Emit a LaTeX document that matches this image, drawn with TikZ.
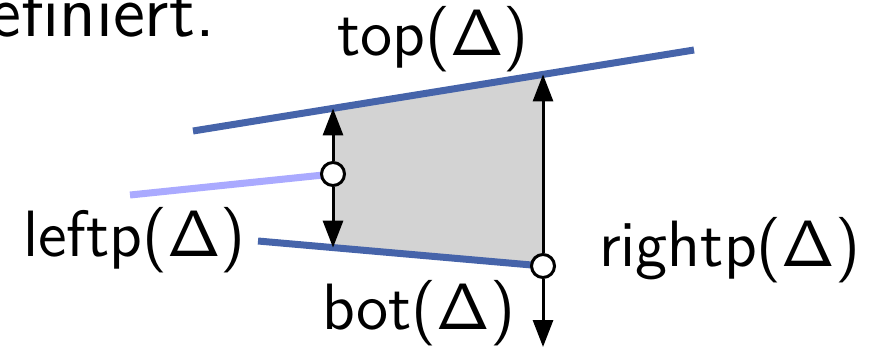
\documentclass[tikz,border=0pt]{standalone}
\usetikzlibrary{arrows.meta}
\definecolor{segblue}{RGB}{70,100,170}
\definecolor{seglight}{RGB}{170,170,255}
\definecolor{trapgray}{RGB}{211,211,211}
\begin{document}
\begin{tikzpicture}[x=0.2pt,y=-0.2pt,
  seg/.style={line width=1.4pt},
  arr/.style={line width=0.6pt,-{Triangle[length=5.4pt,width=4pt]}},
  dotnode/.style={circle,draw,fill=white,line width=0.6pt,minimum size=4.6pt,inner sep=0pt},
  lbl/.style={inner sep=0pt,font=\sffamily\fontsize{13.1}{16}\selectfont},
  bodytext/.style={inner sep=0pt,font=\sffamily\fontsize{14.6}{18}\selectfont}]
\useasboundingbox (0,0) rectangle (874,346);
\clip (0,0) rectangle (874,346);
% geometry
\coordinate (T1) at (193,131);
\coordinate (T2) at (694,50);
\coordinate (B1) at (258,241);
\coordinate (P1) at (130,195);
\coordinate (Ltop) at (333,108.4);
\coordinate (Lbot) at (333,247.6);
\coordinate (Rtop) at (543,74.4);
\coordinate (Rend) at (543,347);
\coordinate (Lc) at (333,174);
\coordinate (Rc) at (543,266);
% trapezoid
\fill[trapgray] (Ltop) -- (Rtop) -- (Rc) -- (Lbot) -- cycle;
% segments
\draw[seg,seglight] (P1) -- (Lc);
\draw[seg,segblue] (T1) -- (T2);
\draw[seg,segblue] (B1) -- (Rc);
% dots
\node[dotnode] (L) at (Lc) {};
\node[dotnode] (R) at (Rc) {};
% arrows
\draw[arr] (L) -- (Ltop);
\draw[arr] (L) -- (Lbot);
\draw[arr] (R) -- (Rtop);
\draw[arr] (R) -- (Rend);
% labels
\node[bodytext,anchor=base east] (def) at (216,36) {definiert.};
\node[lbl,anchor=base west] (top) at (336,55) {top(Δ)};
\node[lbl,anchor=base west] (bot) at (321,329) {bot(Δ)};
\node[lbl,anchor=base west] (left) at (22,256) {leftp(Δ)};
\node[lbl,anchor=base west] (right) at (598,266) {rightp(Δ)};
\end{tikzpicture}
\end{document}
